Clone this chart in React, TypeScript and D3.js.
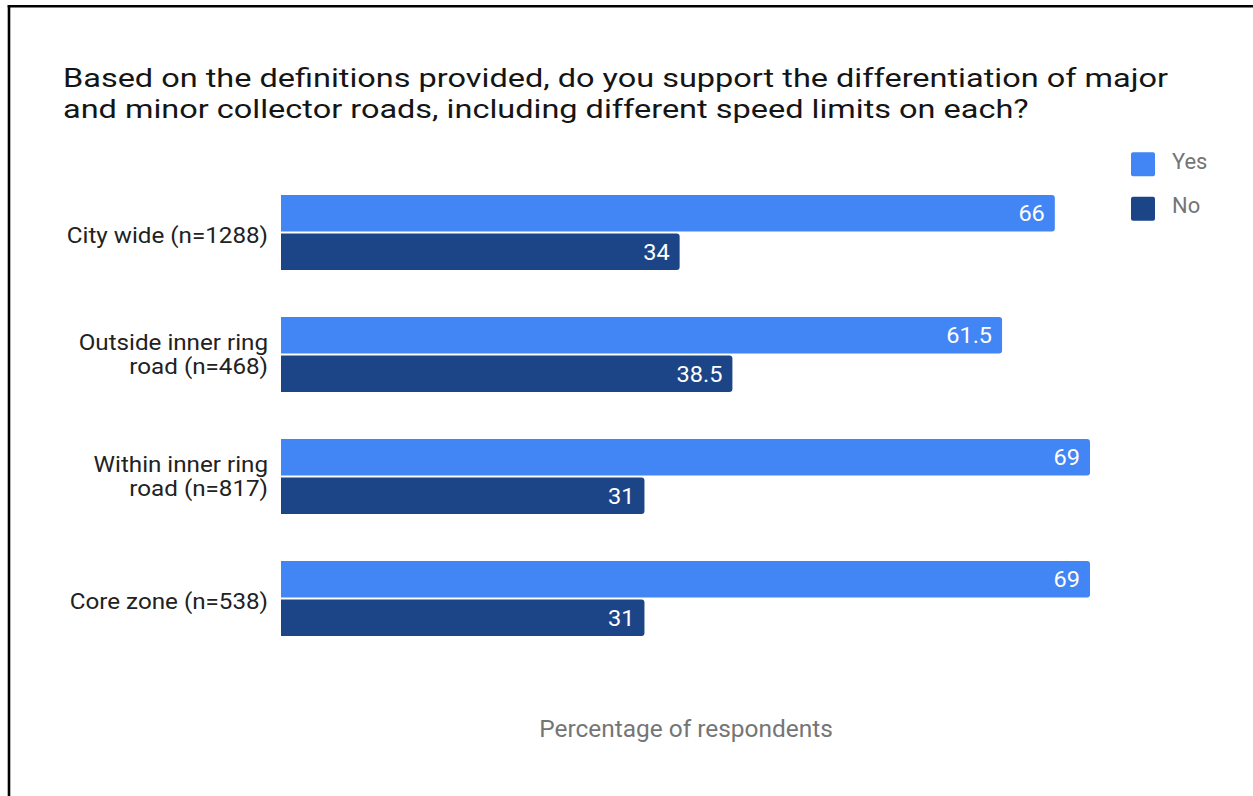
import React from "react";
import * as d3 from "d3";

const categories: string[][] = [
  ["City wide (n=1288)"],
  ["Outside inner ring", "road (n=468)"],
  ["Within inner ring", "road (n=817)"],
  ["Core zone (n=538)"],
];
const yesValues = [66, 61.5, 69, 69];
const noValues = [34, 38.5, 31, 31];
const seriesNames = ["Yes", "No"];
const seriesColors = ["#4285f4", "#1c4587"];
const titleLines = [
  "Based on the definitions provided, do you support the differentiation of major",
  "and minor collector roads, including different speed limits on each?",
];
const axisTitle = "Percentage of respondents";

const W = 1253;
const H = 796;
const FONT = "Roboto, 'Noto Sans', sans-serif";

// rounded on the right end only
function barPath(x0: number, x1: number, y: number, h: number, r: number) {
  const rr = Math.min(r, (x1 - x0) / 2, h / 2);
  return `M${x0},${y}H${x1 - rr}Q${x1},${y} ${x1},${y + rr}V${y + h - rr}Q${x1},${y + h} ${x1 - rr},${y + h}H${x0}Z`;
}

type STProps = {
  x: number;
  y: number;
  sx?: number;
  size: number;
  fill: string;
  anchor?: "start" | "middle" | "end";
  children: React.ReactNode;
};

// text with a slight horizontal stretch
function SText({ x, y, sx = 1, size, fill, anchor = "start", children }: STProps) {
  return (
    <text
      transform={`translate(${x},${y}) scale(${sx},1)`}
      textAnchor={anchor}
      fontFamily={FONT}
      fontSize={size}
      fill={fill}
    >
      {children}
    </text>
  );
}

export default function App() {
  const x = d3.scaleLinear().domain([0, 69]).range([281, 1090]);
  const band = d3
    .scaleBand<number>()
    .domain(d3.range(categories.length))
    .range([195, 636])
    .paddingInner(0.385)
    .paddingOuter(0);
  const series = [yesValues, noValues];
  const gap = 2;
  const barH = (band.bandwidth() - gap) / 2;

  return (
    <svg
      width={W}
      height={H}
      style={{ position: "absolute", left: 0, top: 0, background: "#fff" }}
    >
      <rect x={0} y={0} width={W} height={H} fill="#fff" />
      {/* frame */}
      <line x1={9} y1={5} x2={9} y2={H} stroke="#000" strokeWidth={2.6} />
      <line x1={7.7} y1={6.2} x2={W} y2={6.2} stroke="#000" strokeWidth={2.4} />

      {titleLines.map((t, i) => (
        <SText key={i} x={63} y={87 + i * 31} sx={1.226} size={26.5} fill="#151515">
          {t}
        </SText>
      ))}

      {categories.map((lines, ci) => {
        const top = band(ci) as number;
        const mid = top + band.bandwidth() / 2;
        const center = lines.length > 1 ? mid + 7.5 : mid + 10.5;
        return (
          <g key={ci}>
            {series.map((vals, si) => {
              const yy = top + si * (barH + gap);
              const v = vals[ci];
              return (
                <g key={si}>
                  <path
                    d={barPath(x(0), x(v), yy, barH, 3)}
                    fill={seriesColors[si]}
                  />
                  <SText
                    x={x(v) - 10}
                    y={yy + barH / 2 + 8}
                    sx={1.07}
                    anchor="end"
                    size={22}
                    fill="#fff"
                  >
                    {v}
                  </SText>
                </g>
              );
            })}
            {lines.map((l, li) => (
              <SText
                key={li}
                x={268}
                y={center + (li - (lines.length - 1) / 2) * 24}
                sx={1.1}
                anchor="end"
                size={22}
                fill="#222"
              >
                {l}
              </SText>
            ))}
          </g>
        );
      })}

      {seriesNames.map((s, i) => (
        <g key={s}>
          <rect
            x={1131}
            y={152.3 + i * 44.5}
            width={24}
            height={24}
            rx={2}
            fill={seriesColors[i]}
          />
          <SText x={1172} y={169.3 + i * 44} sx={1.02} size={21.5} fill="#757575">
            {s}
          </SText>
        </g>
      ))}

      <SText x={686} y={736.5} sx={1.04} anchor="middle" size={23.5} fill="#757575">
        {axisTitle}
      </SText>
    </svg>
  );
}
